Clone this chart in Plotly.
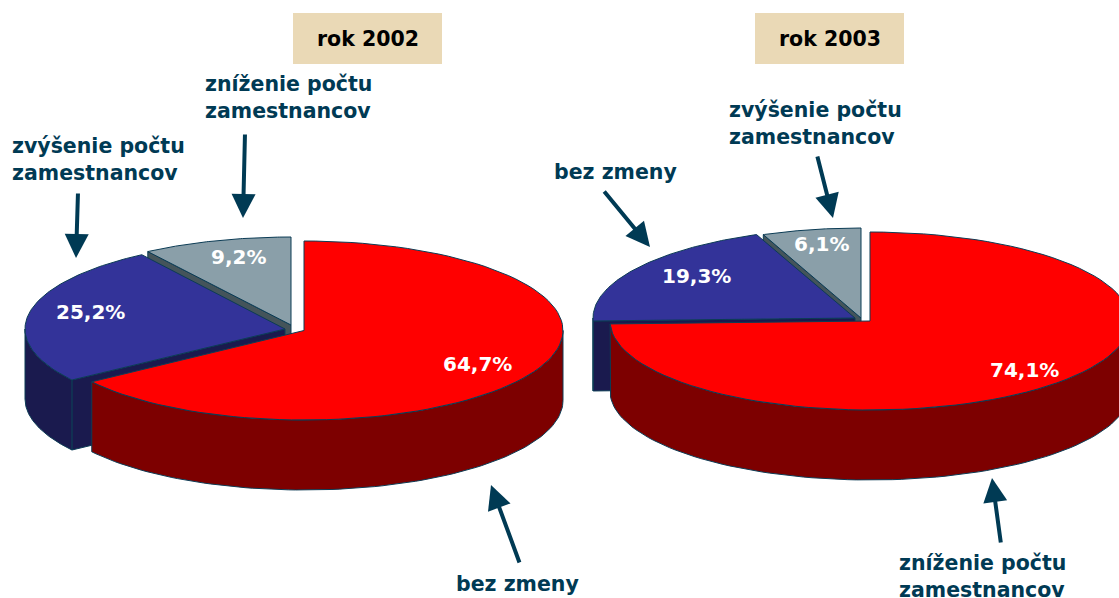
import math
import plotly.graph_objects as go

# --- data ---
years = ["rok 2002", "rok 2003"]
labels_2002 = ["bez zmeny", "zvýšenie počtu<br>zamestnancov", "zníženie počtu<br>zamestnancov"]
values_2002 = [64.7, 25.2, 9.2]
labels_2003 = ["zníženie počtu<br>zamestnancov", "bez zmeny", "zvýšenie počtu<br>zamestnancov"]
values_2003 = [74.1, 19.3, 6.1]

# --- style ---
W, H = 1119, 598
TOP = ["#ff0000", "#333399", "#8a9fa9"]
SIDE = ["#7d0000", "#1a1a4e", "#44545a"]
EDGE = "#0c3c55"
TEXT = "#003a54"
BEIGE = "#ead9b6"
FONT = "DejaVu Sans"
DEPTH = 70

# Geometry of each pie: centre of each exploded slice and ellipse radii
pie_geom = [
    dict(centers=[(304, 330.5), (285, 329), (291, 325)], rx=[259, 260, 260], ry=[89.5, 89, 88]),
    dict(centers=[(870, 321), (855, 318), (861, 318)], rx=[260, 262, 260], ry=[89, 90, 90]),
]


def ell(c, rx, ry, t):
    return c[0] + rx * math.sin(t), c[1] - ry * math.cos(t)


def arc(c, rx, ry, a, b, n=90):
    return [ell(c, rx, ry, a + (b - a) * i / n) for i in range(n + 1)]


fig = go.Figure()


def poly(points, fill, line=EDGE, width=1):
    xs = [p[0] for p in points] + [points[0][0]]
    ys = [p[1] for p in points] + [points[0][1]]
    fig.add_trace(go.Scatter(x=xs, y=ys, mode="lines", fill="toself", fillcolor=fill,
                             line=dict(color=line, width=width), hoverinfo="skip", showlegend=False))


def draw_pie(values, geom):
    total = sum(values)
    spans, acc = [], 0.0
    for v in values:
        a = acc
        acc += v / total * 2 * math.pi
        spans.append((a, acc))
    # back to front: last slice (top-left), middle slice, then first slice
    for i in (2, 1, 0):
        a, b = spans[i]
        c, rx, ry = geom["centers"][i], geom["rx"][i], geom["ry"][i]
        # the cut face turned towards the viewer
        if i > 0:
            p = ell(c, rx, ry, a)
            poly([c, p, (p[0], p[1] + DEPTH), (c[0], c[1] + DEPTH)], SIDE[i])
        # curved outer wall, front half only
        lo, hi = max(a, math.pi / 2), min(b, 3 * math.pi / 2)
        if hi > lo:
            pts = arc(c, rx, ry, lo, hi)
            poly(pts + [(x, y + DEPTH) for x, y in reversed(pts)], SIDE[i])
        poly([c] + arc(c, rx, ry, a, b), TOP[i])


draw_pie(values_2002, pie_geom[0])
draw_pie(values_2003, pie_geom[1])


def note(x, y, text, color=TEXT, size=20.5, anchor="left"):
    fig.add_annotation(x=x, y=y, text=text, showarrow=False, xanchor=anchor, yanchor="middle", align=anchor,
                       font=dict(family=FONT, size=size, color=color, weight=700))


def fmt(v):
    return f"{v:.1f}%".replace(".", ",")


def arrow(x0, y0, x1, y1):
    fig.add_annotation(x=x1, y=y1, ax=x0, ay=y0, axref="x", ayref="y", xref="x", yref="y", text="",
                       showarrow=True, arrowhead=2, arrowsize=1.2, arrowwidth=4, arrowcolor=TEXT)


# Year boxes
for x0, yr in zip((293, 755), years):
    fig.add_shape(type="rect", x0=x0, x1=x0 + 149, y0=13, y1=64, fillcolor=BEIGE, line_width=0, layer="below")
    note(x0 + 74.5, 39, yr, color="#000000", size=20.5, anchor="center")

# Slice labels
note(203, 97, labels_2002[2])
note(10, 159, labels_2002[1])
note(517, 584, labels_2002[0], anchor="center")
note(727, 123, labels_2003[2])
note(615, 172, labels_2003[1], anchor="center")
note(897, 576, labels_2003[0])

# Percentages
for (x, y), v in zip([(477, 364), (90, 312), (238, 257)], values_2002):
    note(x, y, fmt(v), color="#ffffff", size=20, anchor="center")
for (x, y), v in zip([(1024, 370), (696, 276), (821, 244)], values_2003):
    note(x, y, fmt(v), color="#ffffff", size=20, anchor="center")

# Arrows
arrow(245, 133, 243, 218)
arrow(78, 192, 76, 258)
arrow(520, 564, 491, 485)
arrow(817, 155, 833, 218)
arrow(603, 190, 650, 247)
arrow(1001, 544, 992, 478)

fig.update_layout(
    width=W, height=H, margin=dict(l=0, r=0, t=0, b=0),
    paper_bgcolor="#ffffff", plot_bgcolor="#ffffff", showlegend=False,
    xaxis=dict(range=[0, W], visible=False, fixedrange=True),
    yaxis=dict(range=[H, 0], visible=False, fixedrange=True),
)
fig.write_html("out.html", config={"displayModeBar": False},
               post_script="document.body.style.margin='0';document.body.style.overflow='hidden';")
